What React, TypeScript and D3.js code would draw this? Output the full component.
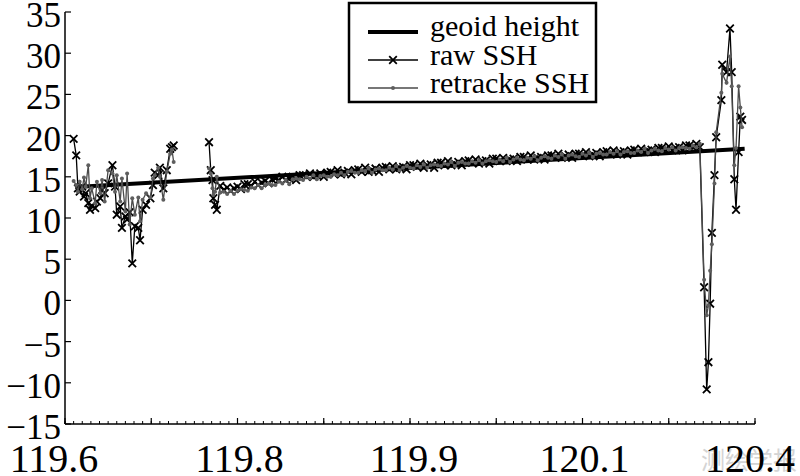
import React from "react";
import * as d3 from "d3";

// ---------- data ----------
const yTicks = [-15, -10, -5, 0, 5, 10, 15, 20, 25, 30, 35];
const xTickValues = [119.6, 119.8, 120.0, 120.2, 120.4];
const xTickLabels = ["119.6", "119.8", "119.9", "120.1", "120.4"];

const geoidLon = [119.612, 120.0, 120.388];
const geoidHeight = [13.75, 16.07, 18.4];

// left cluster
const lonLeft = [
  119.610, 119.613, 119.615, 119.617, 119.620, 119.622, 119.624, 119.627, 119.629, 119.631,
  119.635, 119.637, 119.641, 119.643, 119.646, 119.650, 119.655, 119.658, 119.660, 119.664,
  119.666, 119.670, 119.672, 119.675, 119.678, 119.681, 119.685, 119.687, 119.690, 119.694,
  119.699, 119.702, 119.704, 119.708, 119.710, 119.714, 119.718, 119.722, 119.724, 119.726,
];
const rawLeft = [
  19.6, 17.6, 13.6, 13.2, 13.8, 12.6, 13.0, 11.8, 11.0, 11.5,
  11.2, 12.0, 12.4, 13.4, 13.0, 14.2, 16.4, 13.8, 10.4, 11.4,
  8.8, 10.2, 9.8, 10.7, 4.5, 9.0, 8.8, 7.3, 11.0, 11.6,
  12.4, 14.0, 15.5, 15.2, 16.1, 13.6, 15.8, 18.4, 18.6, 18.8,
];
const retLeft = [
  14.5, 14.0, 13.2, 14.4, 13.5, 14.9, 13.8, 16.4, 12.4, 13.6,
  11.8, 14.4, 13.0, 14.6, 12.0, 15.8, 15.4, 13.2, 15.2, 12.0,
  14.8, 10.8, 15.4, 9.2, 12.4, 10.4, 12.5, 9.6, 12.2, 13.0,
  12.5, 14.8, 15.2, 16.1, 15.0, 12.2, 15.6, 17.8, 18.3, 16.8,
];

// second short cluster, long track over land, and the eastern coastal cluster
const lonMid = [
  119.767, 119.769, 119.771, 119.772, 119.774, 119.776,
  119.780, 119.784, 119.788, 119.792, 119.796, 119.800, 119.804, 119.808, 119.812, 119.816,
  119.820, 119.824, 119.828, 119.832, 119.836, 119.840, 119.844, 119.848, 119.852, 119.856,
  119.860, 119.864, 119.868, 119.872, 119.876, 119.880, 119.884, 119.888, 119.892, 119.896,
  119.900, 119.904, 119.908, 119.912, 119.916, 119.920, 119.924, 119.928, 119.932, 119.936,
  119.940, 119.944, 119.948, 119.952, 119.956, 119.960, 119.964, 119.968, 119.972, 119.976,
  119.980, 119.984, 119.988, 119.992, 119.996, 120.000, 120.004, 120.008, 120.012, 120.016,
  120.020, 120.024, 120.028, 120.032, 120.036, 120.040, 120.044, 120.048, 120.052, 120.056,
  120.060, 120.064, 120.068, 120.072, 120.076, 120.080, 120.084, 120.088, 120.092, 120.096,
  120.100, 120.104, 120.108, 120.112, 120.116, 120.120, 120.124, 120.128, 120.132, 120.136,
  120.140, 120.144, 120.148, 120.152, 120.156, 120.160, 120.164, 120.168, 120.172, 120.176,
  120.180, 120.184, 120.188, 120.192, 120.196, 120.200, 120.204, 120.208, 120.212, 120.216,
  120.220, 120.224, 120.228, 120.232, 120.236, 120.240, 120.244, 120.248, 120.252, 120.256,
  120.260, 120.264, 120.268, 120.272, 120.276, 120.280, 120.284, 120.288, 120.292, 120.296,
  120.300, 120.304, 120.308, 120.312, 120.316, 120.320, 120.324, 120.328, 120.332, 120.336,
  120.341, 120.344, 120.346, 120.348, 120.350, 120.353, 120.355, 120.361, 120.362, 120.367,
  120.371, 120.373, 120.376, 120.378, 120.381, 120.383, 120.385,
];
const rawMid = [
  19.2, 15.8, 14.6, 12.4, 11.6, 11.0,
  13.9, 13.4, 13.7, 13.3, 13.6, 13.8, 13.5, 14.1, 14.1, 13.9,
  14.4, 14.0, 14.3, 14.5, 14.2, 14.7, 14.8, 14.6, 15.0, 14.6,
  14.8, 15.0, 14.6, 15.2, 15.2, 15.0, 15.4, 15.0, 15.2, 15.4,
  15.0, 15.5, 15.6, 15.3, 15.8, 15.3, 15.5, 15.7, 15.3, 15.8,
  15.9, 15.6, 16.1, 15.6, 15.8, 16.0, 15.6, 16.1, 16.2, 15.9,
  16.3, 15.9, 16.1, 16.2, 15.9, 16.4, 16.4, 16.2, 16.6, 16.1,
  16.4, 16.5, 16.1, 16.7, 16.7, 16.4, 16.9, 16.4, 16.6, 16.8,
  16.4, 16.9, 17.0, 16.7, 17.1, 16.6, 16.9, 17.0, 16.6, 17.2,
  17.2, 16.9, 17.3, 16.9, 17.1, 17.2, 16.9, 17.4, 17.4, 17.1,
  17.6, 17.1, 17.3, 17.4, 17.1, 17.6, 17.6, 17.4, 17.8, 17.3,
  17.5, 17.7, 17.3, 17.8, 17.8, 17.6, 18.0, 17.5, 17.7, 17.9,
  17.5, 18.0, 18.1, 17.8, 18.2, 17.7, 18.0, 18.1, 17.7, 18.2,
  18.3, 18.0, 18.4, 18.0, 18.2, 18.3, 18.0, 18.5, 18.5, 18.3,
  18.7, 18.2, 18.5, 18.6, 18.2, 18.8, 18.8, 18.6, 19.0, 18.6,
  1.6, -10.8, -7.5, -0.4, 8.2, 15.2, 19.8, 24.3, 28.6, 27.7,
  33.0, 27.7, 14.7, 11.0, 18.0, 22.3, 21.9,
];
const retMid = [
  16.0, 15.4, 13.6, 12.8, 13.2, 15.0,
  13.1, 13.2, 12.9, 13.3, 12.9, 13.3, 13.5, 13.4, 13.3, 13.7,
  13.6, 14.0, 13.6, 14.0, 14.2, 14.0, 14.0, 14.4, 14.2, 14.6,
  14.1, 14.7, 14.8, 14.7, 14.6, 15.0, 14.8, 15.2, 14.7, 15.1,
  15.2, 15.0, 15.0, 15.3, 15.2, 15.5, 15.2, 15.6, 15.7, 15.5,
  15.5, 15.8, 15.7, 16.0, 15.5, 15.9, 16.0, 15.8, 15.8, 16.1,
  15.9, 16.3, 15.8, 16.1, 16.3, 16.1, 16.0, 16.4, 16.2, 16.5,
  16.1, 16.4, 16.5, 16.4, 16.3, 16.6, 16.5, 16.8, 16.3, 16.7,
  16.8, 16.6, 16.6, 16.9, 16.7, 17.0, 16.6, 16.9, 17.0, 16.9,
  16.8, 17.1, 16.9, 17.3, 16.8, 17.1, 17.3, 17.1, 17.0, 17.3,
  17.2, 17.5, 17.0, 17.3, 17.5, 17.3, 17.2, 17.6, 17.4, 17.7,
  17.2, 17.6, 17.7, 17.5, 17.4, 17.8, 17.6, 17.9, 17.4, 17.8,
  17.9, 17.7, 17.7, 18.0, 17.8, 18.1, 17.7, 18.0, 18.1, 17.9,
  17.9, 18.2, 18.0, 18.4, 17.9, 18.2, 18.4, 18.2, 18.1, 18.5,
  18.3, 18.6, 18.2, 18.5, 18.6, 18.5, 18.4, 18.8, 18.6, 19.0,
  2.5, -1.8, -0.6, 3.6, 6.8, 14.2, 20.4, 25.2, 27.5, 26.4,
  29.6, 26.0, 16.4, 18.5, 26.0, 23.4, 21.0,
];

const legendLabels = ["geoid height", "raw SSH", "retracke SSH"];

// ---------- layout ----------
const W = 800;
const H = 476;
const x = d3.scaleLinear().domain([119.6, 120.4]).range([65, 755]);
const y = d3.scaleLinear().domain([-15, 35]).range([424, 12]);
const SERIF = "'Liberation Serif', 'Times New Roman', serif";

type P = [number, number];
const segs = (lon: number[], v: number[]): P[] => lon.map((l, i) => [l, v[i]] as P);

export default function App() {
  const line = d3
    .line<P>()
    .x((d) => x(d[0]))
    .y((d) => y(d[1]));

  const geoid = segs(geoidLon, geoidHeight);
  const rawSegs = [segs(lonLeft, rawLeft), segs(lonMid, rawMid)];
  const retSegs = [segs(lonLeft, retLeft), segs(lonMid, retMid)];

  const minor = d3.range(0, 81).map((i) => 119.6 + i * 0.01);
  const major = d3.range(0, 9).map((i) => 119.6 + i * 0.1);

  const M = 3.8;
  const xMark = (cx: number, cy: number, k: string) => (
    <path
      key={k}
      d={`M${cx - M},${cy - M}L${cx + M},${cy + M}M${cx - M},${cy + M}L${cx + M},${cy - M}`}
      stroke="#000"
      strokeWidth={1.8}
      fill="none"
    />
  );

  const labelDx = [-11, 2, 4, 2, -5];

  return (
    <svg
      width={W}
      height={H}
      style={{ position: "absolute", left: 0, top: 0, background: "#fff" }}
    >
      <rect x={0} y={0} width={W} height={H} fill="#fff" />
      {/* watermark */}
      <text
        x={749}
        y={469}
        textAnchor="middle"
        fontFamily="'Noto Sans CJK SC', sans-serif"
        fontSize={24}
        fill="#d4d4d4"
      >
        测绘学报
      </text>

      {/* geoid */}
      <path d={line(geoid) || ""} stroke="#000" strokeWidth={4} fill="none" />

      {/* raw SSH */}
      {rawSegs.map((s, i) => (
        <path key={"rl" + i} d={line(s) || ""} stroke="#000" strokeWidth={1.3} fill="none" />
      ))}
      {rawSegs.map((s, i) => s.map((d, j) => xMark(x(d[0]), y(d[1]), `rm${i}-${j}`)))}

      {/* retracked SSH */}
      {retSegs.map((s, i) => (
        <path key={"tl" + i} d={line(s) || ""} stroke="#4a4a4a" strokeWidth={1.3} fill="none" />
      ))}
      {retSegs.map((s, i) =>
        s.map((d, j) => (
          <circle key={`tm${i}-${j}`} cx={x(d[0])} cy={y(d[1])} r={2} fill="#5e5e5e" />
        ))
      )}

      {/* axes */}
      <line x1={65} x2={65} y1={y(35)} y2={y(-15)} stroke="#000" strokeWidth={1.5} />
      <line x1={65} x2={755} y1={y(-15)} y2={y(-15)} stroke="#000" strokeWidth={1.5} />
      {yTicks.map((t) => (
        <g key={"yt" + t}>
          <line x1={65} x2={71} y1={y(t)} y2={y(t)} stroke="#000" strokeWidth={1.2} />
          <text
            x={61}
            y={y(t) + 15}
            textAnchor="end"
            fontFamily={SERIF}
            fontSize={35}
            fill="#000"
          >
            {t < 0 ? "\u2212" + Math.abs(t) : String(t)}
          </text>
        </g>
      ))}
      {minor.map((t, i) => (
        <line key={"mn" + i} x1={x(t)} x2={x(t)} y1={y(-15)} y2={y(-15) - 3} stroke="#000" strokeWidth={1} />
      ))}
      {major.map((t, i) => (
        <line key={"mj" + i} x1={x(t)} x2={x(t)} y1={y(-15)} y2={y(-15) - 6} stroke="#000" strokeWidth={1.2} />
      ))}
      {xTickValues.map((t, i) => (
        <text
          key={"xl" + i}
          x={x(t) + labelDx[i]}
          y={472}
          textAnchor="middle"
          fontFamily={SERIF}
          fontSize={40}
          fill="#000"
        >
          {xTickLabels[i]}
        </text>
      ))}

      {/* legend */}
      <rect x={349} y={3} width={247} height={99} fill="#fff" stroke="#000" strokeWidth={2.5} />
      <line x1={368} x2={418} y1={32} y2={32} stroke="#000" strokeWidth={4} />
      <line x1={368} x2={418} y1={60} y2={60} stroke="#000" strokeWidth={1.3} />
      {xMark(393, 60, "lgx")}
      <line x1={368} x2={418} y1={88} y2={88} stroke="#4a4a4a" strokeWidth={1.3} />
      <circle cx={393} cy={88} r={2} fill="#5e5e5e" />
      {legendLabels.map((l, i) => (
        <text key={"lg" + i} x={430} y={36 + i * 28.5} fontFamily={SERIF} fontSize={30} fill="#000">
          {l}
        </text>
      ))}
    </svg>
  );
}
